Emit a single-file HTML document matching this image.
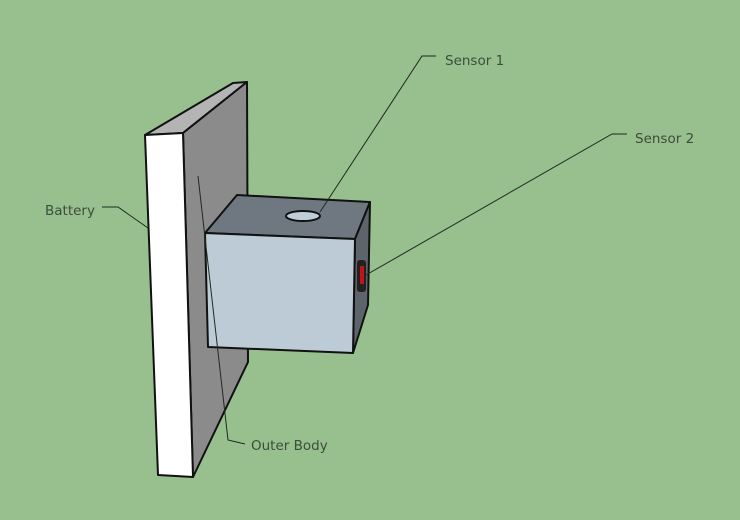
<!DOCTYPE html>
<html><head><style>
html,body{margin:0;padding:0;background:#98bf8e;}
svg{display:block}
text{font-family:"DejaVu Sans","Liberation Sans",sans-serif;font-size:13.5px;fill:#3d4d3b}
</style></head><body>
<svg width="740" height="520" viewBox="0 0 740 520" xmlns="http://www.w3.org/2000/svg">
<rect width="740" height="520" fill="#98bf8e"/>
<g stroke="#111" stroke-width="2" stroke-linejoin="round">
<polygon points="145,135 233,83 247,82 183,133" fill="#b4b4b4"/>
<polygon points="183,133 247,82 248,362 193,477" fill="#8b8b8b"/>
<polygon points="145,135 183,133 193,477 158,475" fill="#ffffff"/>
<polygon points="205,233 237,195 370,202 355,239" fill="#6f7880"/>
<polygon points="355,239 370,202 368,305 353,353" fill="#5e646b"/>
<polygon points="205,233 355,239 353,353 208,347" fill="#bccbd6"/>
</g>
<ellipse cx="303" cy="216" rx="17" ry="5" fill="#bfcfda" stroke="#111" stroke-width="2"/>
<rect x="357" y="260" width="9" height="32" rx="3" fill="#222"/>
<rect x="360" y="266" width="4" height="18" fill="#c0141a"/>
<g stroke="#1e2a1e" stroke-width="1" fill="none">
<polyline points="320,212 422,56 436,56"/>
<polyline points="366,275 612,134 627,134"/>
<polyline points="102,207 118,207 148,228"/>
<polyline points="198,176 228,440 245,444"/>
</g>
<text x="445" y="65">Sensor 1</text>
<text x="635" y="143">Sensor 2</text>
<text x="45" y="215">Battery</text>
<text x="251" y="450">Outer Body</text>
</svg>
</body></html>
